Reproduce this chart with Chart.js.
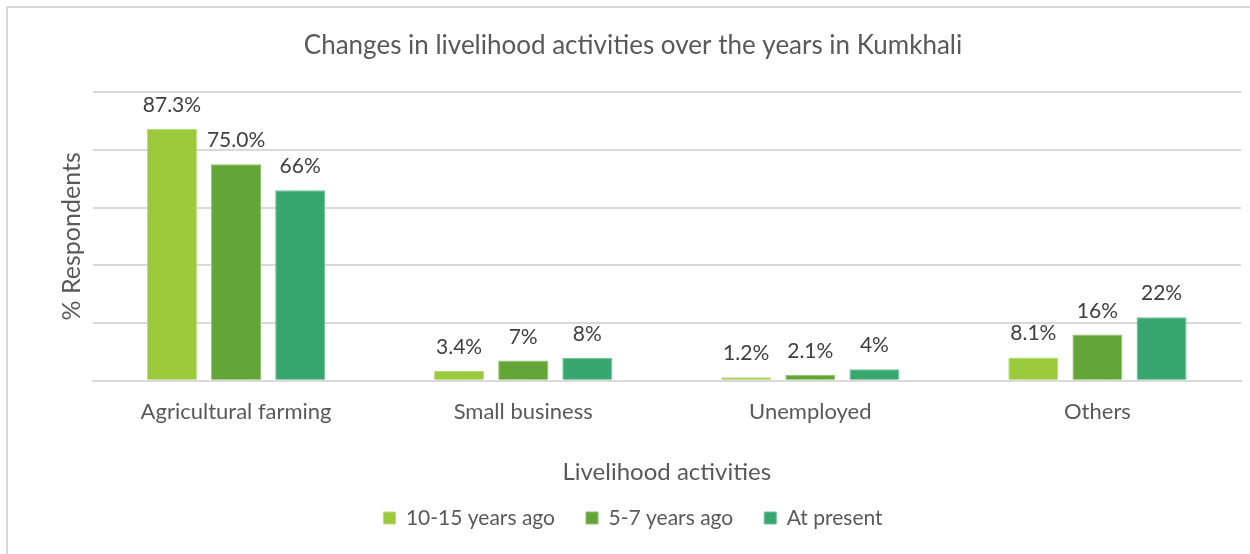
<!DOCTYPE html>
<html>
<head>
<meta charset="utf-8">
<script src="https://cdn.jsdelivr.net/npm/chart.js@4.4.1/dist/chart.umd.min.js"></script>
<style>
  html, body { margin: 0; padding: 0; background: #fff; }
  #wrap { width: 1250px; height: 554px; position: relative; }
</style>
</head>
<body>
<div id="wrap"><canvas id="c" width="1250" height="554"></canvas></div>
<script>
// ---- data ----
const categories = ['Agricultural farming', 'Small business', 'Unemployed', 'Others'];
const seriesNames = ['10-15 years ago', '5-7 years ago', 'At present'];
const old15 = [87.3, 3.4, 1.2, 8.1];
const old5 = [75.0, 7, 2.1, 16];
const present = [66, 8, 4, 22];
const old15Labels = ['87.3%', '3.4%', '1.2%', '8.1%'];
const old5Labels = ['75.0%', '7%', '2.1%', '16%'];
const presentLabels = ['66%', '8%', '4%', '22%'];

const FONT = 'Lato, "Open Sans", sans-serif';
const TEXT = '#595959', GRID = '#d9d9d9';
const COLORS = ['#9aca3c', '#63a537', '#37a76f'];
const EDGES = ['#b8dc7a', '#8cc06a', '#6cc196'];

// value labels above each bar
const valueLabels = {
  id: 'valueLabels',
  afterDatasetsDraw(c) {
    const ctx = c.ctx;
    ctx.save();
    ctx.font = '21px ' + FONT;
    ctx.fillStyle = '#404040';
    ctx.textAlign = 'center';
    ctx.textBaseline = 'alphabetic';
    c.data.datasets.forEach((ds, i) => {
      c.getDatasetMeta(i).data.forEach((bar, j) => {
        ctx.fillText(ds.valueText[j], bar.x, bar.y - 17);
      });
    });
    ctx.restore();
  }
};

// light chart-area frame (top and left edges visible in the crop)
const frame = {
  id: 'frame',
  beforeDraw(c) {
    const ctx = c.ctx;
    ctx.save();
    ctx.strokeStyle = '#d9d9d9';
    ctx.lineWidth = 2;
    ctx.beginPath();
    ctx.moveTo(7, 554); ctx.lineTo(7, 7); ctx.lineTo(1250, 7);
    ctx.stroke();
    ctx.restore();
  }
};

const texts = [old15Labels, old5Labels, presentLabels];
new Chart(document.getElementById('c'), {
  type: 'bar',
  data: {
    labels: categories,
    datasets: [old15, old5, present].map((d, i) => ({
      label: seriesNames[i], data: d, valueText: texts[i],
      backgroundColor: COLORS[i], borderColor: EDGES[i], borderWidth: 1,
      categoryPercentage: 0.67, barPercentage: 0.78
    }))
  },
  options: {
    responsive: false, animation: false,
    layout: { padding: { left: 25, right: 9, top: 0, bottom: 15.5 } },
    scales: {
      x: {
        grid: { display: false, drawTicks: false },
        border: { color: GRID, width: 2 },
        ticks: { color: TEXT, font: { family: FONT, size: 22 }, padding: 18 },
        title: { display: true, text: 'Livelihood activities', color: TEXT,
                 font: { family: FONT, size: 24 }, padding: { top: 15, bottom: -10.5 } }
      },
      y: {
        min: 0, max: 100,
        ticks: { display: false, stepSize: 20 },
        grid: { color: GRID, lineWidth: 2, drawTicks: false },
        border: { display: false },
        title: { display: true, text: '% Respondents', color: TEXT,
                 font: { family: FONT, size: 25 }, padding: { top: 32, bottom: 5.5 } }
      }
    },
    plugins: {
      title: { display: true, text: 'Changes in livelihood activities over the years in Kumkhali',
               color: TEXT, font: { family: FONT, size: 26, weight: 'normal' },
               padding: { top: 30.4, bottom: 30.4 } },
      legend: { position: 'bottom',
                labels: { color: TEXT, font: { family: FONT, size: 21 }, boxWidth: 12, boxHeight: 12, padding: 31 } },
      tooltip: { enabled: false }
    }
  },
  plugins: [frame, valueLabels]
});
</script>
</body>
</html>
